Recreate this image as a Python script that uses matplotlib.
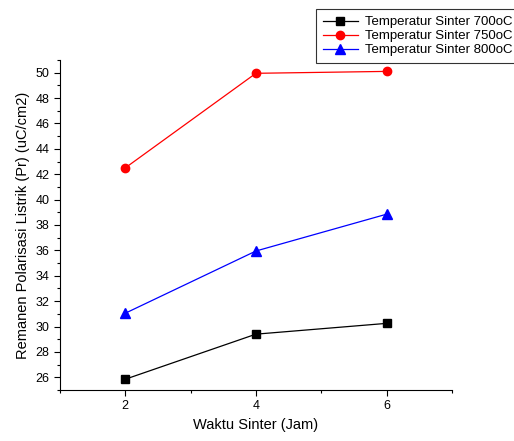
import matplotlib.pyplot as plt
from matplotlib.ticker import MultipleLocator
plt.rcParams["font.family"] = "Liberation Sans"

waktu = [2, 4, 6]
pr_700 = [25.85, 29.4, 30.25]
pr_750 = [42.5, 49.95, 50.1]
pr_800 = [31.05, 35.95, 38.85]

fig = plt.figure(figsize=(5.14, 4.41), dpi=100)
ax = fig.add_axes([0.1167, 0.1156, 0.7623, 0.7484])

ax.plot(waktu, pr_700, color='black', marker='s', markersize=5.5, linewidth=0.9,
        label='Temperatur Sinter 700oC')
ax.plot(waktu, pr_750, color='red', marker='o', markersize=6, linewidth=0.9,
        label='Temperatur Sinter 750oC')
ax.plot(waktu, pr_800, color='blue', marker='^', markersize=6.5, linewidth=0.9,
        label='Temperatur Sinter 800oC')

ax.set_xlim(1, 7)
ax.set_ylim(25, 51)
ax.xaxis.set_major_locator(MultipleLocator(2))
ax.xaxis.set_minor_locator(MultipleLocator(1))
ax.yaxis.set_major_locator(MultipleLocator(2))
ax.yaxis.set_minor_locator(MultipleLocator(1))
ax.tick_params(which='major', length=4, width=0.8, labelsize=9, direction='out')
ax.tick_params(which='minor', length=2.5, width=0.8, direction='out')
ax.spines['top'].set_visible(False)
ax.spines['right'].set_visible(False)

ax.set_xlabel('Waktu Sinter (Jam)', fontsize=10.5)
ax.set_ylabel('Remanen Polarisasi Listrik (Pr) (uC/cm2)', fontsize=10.5)

leg = fig.legend(loc='upper left', bbox_to_anchor=(316 / 514, 1 - 9 / 441),
                 fontsize=9.5, frameon=True, fancybox=False, edgecolor='black',
                 handlelength=2.6, handletextpad=0.6, borderpad=0.55,
                 labelspacing=0.12, borderaxespad=0)
leg.get_frame().set_linewidth(0.8)

plt.savefig('out.png')
